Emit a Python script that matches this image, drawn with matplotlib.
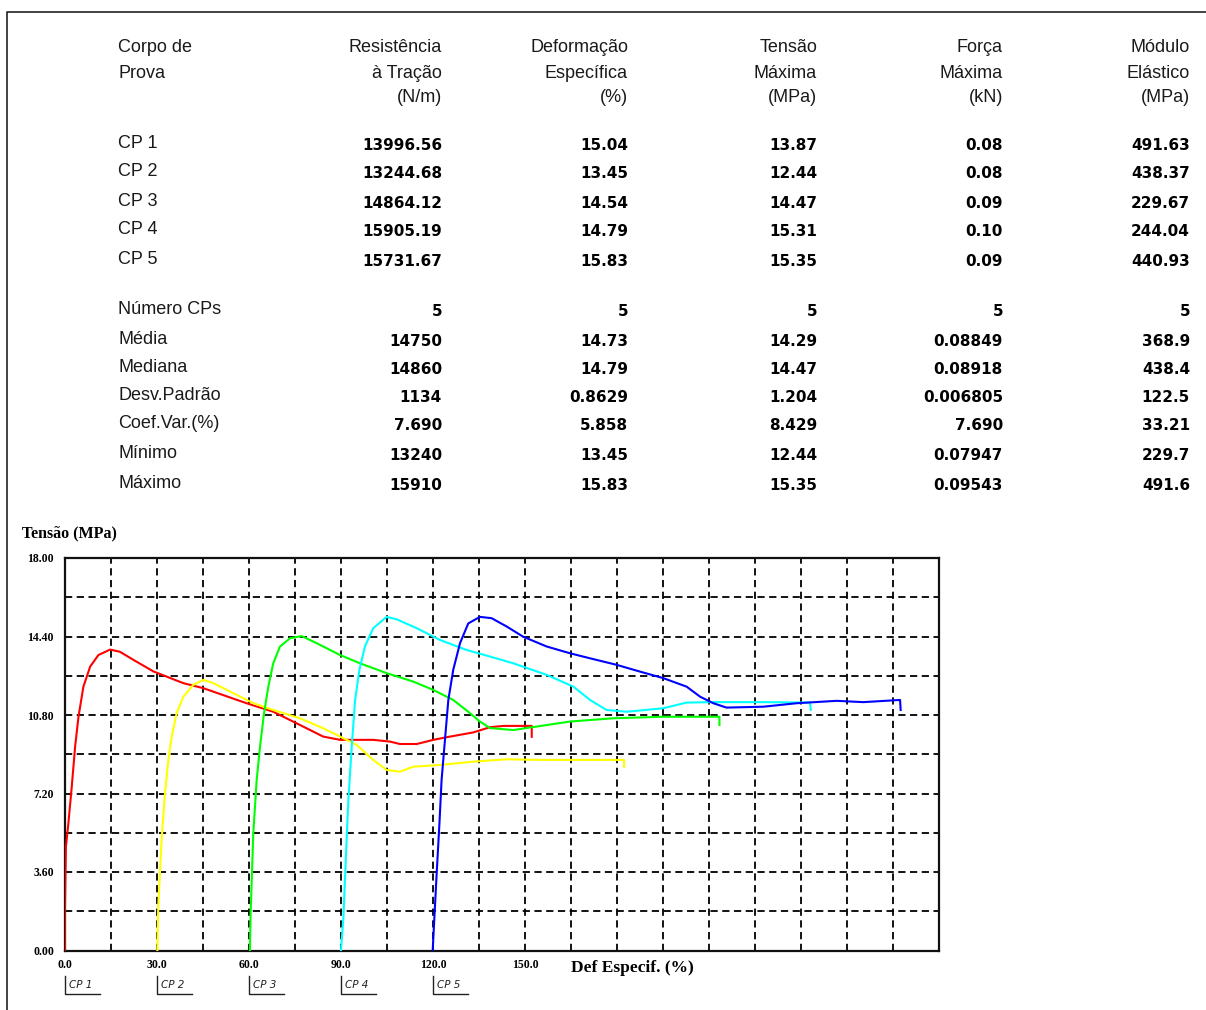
import numpy as np
import matplotlib.pyplot as plt

# --- tabela de resultados ---
headers = [
    ["Resistência", "à Tração", "(N/m)"],
    ["Deformação", "Específica", "(%)"],
    ["Tensão", "Máxima", "(MPa)"],
    ["Força", "Máxima", "(kN)"],
    ["Módulo", "Elástico", "(MPa)"],
]
cp_labels = ["CP 1", "CP 2", "CP 3", "CP 4", "CP 5"]
resistencia = [13996.56, 13244.68, 14864.12, 15905.19, 15731.67]
deformacao = [15.04, 13.45, 14.54, 14.79, 15.83]
tensao_max = [13.87, 12.44, 14.47, 15.31, 15.35]
forca_max = [0.08, 0.08, 0.09, 0.10, 0.09]
modulo = [491.63, 438.37, 229.67, 244.04, 440.93]

stat_labels = ["Número CPs", "Média", "Mediana", "Desv.Padrão",
               "Coef.Var.(%)", "Mínimo", "Máximo"]
stat_resistencia = ["5", "14750", "14860", "1134", "7.690", "13240", "15910"]
stat_deformacao = ["5", "14.73", "14.79", "0.8629", "5.858", "13.45", "15.83"]
stat_tensao = ["5", "14.29", "14.47", "1.204", "8.429", "12.44", "15.35"]
stat_forca = ["5", "0.08849", "0.08918", "0.006805", "7.690", "0.07947", "0.09543"]
stat_modulo = ["5", "368.9", "438.4", "122.5", "33.21", "229.7", "491.6"]

# --- curvas tensão x deformação (deslocadas de 30 em 30) ---
cp_offsets = [0, 30, 60, 90, 120]
cp_colors = ["#ff0000", "#ffff00", "#00ff00", "#00ffff", "#0000ff"]

cp1_x = [0, 0, 0.3, 1.1, 2.2, 3.3, 4.4, 6.0, 8.2, 10.9, 14.7, 17.9, 22.3, 28.8, 38.6,
         45.1, 59.2, 67.9, 75.5, 84.2, 89.7, 100.5, 106.0, 109.2, 114.7, 120.1,
         124.4, 133.1, 138.6, 143.0, 149.4, 152.2, 152.2]
cp1_y = [0, 2.0, 4.76, 5.83, 7.51, 9.35, 10.72, 12.1, 13.02, 13.55, 13.8, 13.7, 13.33,
         12.8, 12.26, 12.03, 11.34, 10.95, 10.42, 9.81, 9.66, 9.66, 9.58, 9.47,
         9.47, 9.66, 9.78, 10.0, 10.24, 10.3, 10.3, 10.3, 9.8]

cp2_x = [30.1, 30.4, 31.5, 32.6, 33.7, 34.8, 36.4, 38.6, 41.8, 45.1, 48.4, 54.9,
         61.4, 67.9, 76.6, 84.2, 89.7, 95.1, 100.5, 104.9, 109.2, 113.6, 122.3,
         133.1, 144.0, 154.9, 165.0, 179.9, 182.3, 182.3]
cp2_y = [0, 2.0, 5.07, 7.21, 8.74, 9.81, 10.88, 11.64, 12.18, 12.41, 12.26, 11.8,
         11.34, 11.03, 10.65, 10.19, 9.81, 9.43, 8.74, 8.28, 8.2, 8.43, 8.51,
         8.66, 8.77, 8.74, 8.74, 8.74, 8.74, 8.42]

cp3_x = [60.3, 60.5, 61.4, 62.5, 63.6, 64.9, 66.3, 67.9, 70.1, 73.4, 77.2, 82.1,
         89.7, 96.2, 104.9, 113.6, 120.1, 126.6, 132.1, 135.3, 138.6, 146.2,
         157.1, 164.7, 178.8, 195.1, 212.5, 213.4, 213.4]
cp3_y = [0, 1.55, 5.38, 7.82, 9.35, 10.88, 12.1, 13.17, 13.94, 14.32, 14.42, 14.09,
         13.55, 13.17, 12.72, 12.33, 11.95, 11.49, 10.88, 10.5, 10.2, 10.11,
         10.34, 10.5, 10.65, 10.72, 10.72, 10.72, 10.34]

cp4_x = [90.0, 90.8, 91.6, 92.4, 93.5, 94.6, 96.0, 97.8, 100.5, 104.9, 108.1, 114.7,
         122.3, 131.0, 138.6, 146.2, 157.1, 165.8, 171.2, 176.6, 183.2, 195.1,
         202.7, 211.4, 227.7, 242.9, 243.2]
cp4_y = [0, 1.55, 4.3, 6.9, 9.35, 11.49, 12.87, 13.94, 14.78, 15.3, 15.19, 14.78,
         14.24, 13.78, 13.48, 13.17, 12.64, 12.1, 11.49, 11.03, 10.95, 11.11,
         11.37, 11.39, 11.39, 11.37, 11.03]

cp5_x = [119.9, 120.3, 121.2, 122.1, 122.8, 123.9, 125.0, 126.6, 128.8, 131.5, 135.3,
         139.1, 144.0, 149.4, 157.1, 164.7, 171.2, 179.9, 187.5, 195.1, 202.7,
         207.1, 211.4, 215.7, 227.7, 238.6, 251.6, 260.3, 272.3, 272.5]
cp5_y = [0, 1.1, 3.54, 5.83, 7.82, 9.66, 11.49, 12.87, 14.09, 15.0, 15.3, 15.24,
         14.86, 14.39, 13.94, 13.63, 13.4, 13.1, 12.79, 12.49, 12.1, 11.64,
         11.34, 11.14, 11.18, 11.34, 11.45, 11.39, 11.49, 11.03]

curves = [(cp1_x, cp1_y), (cp2_x, cp2_y), (cp3_x, cp3_y), (cp4_x, cp4_y), (cp5_x, cp5_y)]

W, H = 1206, 1010
fig = plt.figure(figsize=(W / 100, H / 100), dpi=100)


def fx(px):
    return px / W


def fy(py):
    return 1 - py / H


# moldura da página
fig.add_artist(plt.Line2D([fx(7), fx(7), fx(W)], [fy(H), fy(12), fy(12)],
                          color="#222222", lw=1.2))

head_font = dict(family="Liberation Sans", fontsize=13, color="#1a1a1a")
num_font = dict(family="DejaVu Sans", fontsize=11, fontweight="bold", color="#000000")

# cabeçalho
fig.text(fx(118), fy(48), "Corpo de", ha="left", va="center", **head_font)
fig.text(fx(118), fy(73), "Prova", ha="left", va="center", **head_font)
col_right = [442, 628, 817, 1003, 1190]
for xr, lines in zip(col_right, headers):
    for k, line in enumerate(lines):
        fig.text(fx(xr), fy(48 + 25 * k), line, ha="right", va="center", **head_font)

# valores por corpo de prova
cols = [
    [f"{v:.2f}" for v in resistencia],
    [f"{v:.2f}" for v in deformacao],
    [f"{v:.2f}" for v in tensao_max],
    [f"{v:.2f}" for v in forca_max],
    [f"{v:.2f}" for v in modulo],
]
row_y = [145, 174, 203, 232, 261]
for i, lab in enumerate(cp_labels):
    fig.text(fx(118), fy(row_y[i] - 2), lab, ha="left", va="center", **head_font)
    for xr, col in zip(col_right, cols):
        fig.text(fx(xr), fy(row_y[i]), col[i], ha="right", va="center", **num_font)

# estatísticas
stat_cols = [stat_resistencia, stat_deformacao, stat_tensao, stat_forca, stat_modulo]
stat_y = [312, 341, 369, 398, 426, 456, 485]
for i, lab in enumerate(stat_labels):
    fig.text(fx(118), fy(stat_y[i] - 2), lab, ha="left", va="center", **head_font)
    for xr, col in zip(col_right, stat_cols):
        fig.text(fx(xr), fy(stat_y[i]), col[i], ha="right", va="center", **num_font)

# --- gráfico ---
ax = fig.add_axes([fx(65), fy(950.5), (939 - 65) / W, (950.5 - 558) / H])
for (xs, ys), c in zip(curves, cp_colors):
    ax.plot(xs, ys, color=c, lw=1.5, zorder=3)

ax.set_xlim(0, 285)
ax.set_ylim(0, 18)
xt = np.arange(0, 285, 15)
ax.set_xticks(xt)
ax.set_xticklabels([f"{v:.1f}" if (v % 30 == 0 and v <= 150) else "" for v in xt])
yt = np.arange(0, 18.01, 1.8)
ax.set_yticks(yt)
ax.set_yticklabels([f"{v:.2f}" if k % 2 == 0 else "" for k, v in enumerate(yt)])
ax.tick_params(length=0, labelsize=8.5)
ax.tick_params(axis="y", pad=8)
ax.tick_params(axis="x", pad=6)
for lab in ax.get_xticklabels() + ax.get_yticklabels():
    lab.set_fontweight("bold")
    lab.set_family("Liberation Serif")
ax.grid(True, color="black", lw=1.3, linestyle=(0, (4, 2.5)))
for sp in ax.spines.values():
    sp.set_linewidth(1.6)
    sp.set_color("#111111")

fig.text(fx(22), fy(533), "Tensão (MPa)", ha="left", va="center",
         family="Liberation Serif", fontweight="bold", fontsize=11.5)
fig.text(fx(571), fy(968), "Def Especif. (%)", ha="left", va="center",
         family="Liberation Serif", fontweight="bold", fontsize=12.5)

# legenda dos corpos de prova sob o eixo x
for off, lab in zip(cp_offsets, cp_labels):
    px = 65 + off * (939 - 65) / 285
    fig.add_artist(plt.Line2D([fx(px), fx(px), fx(px + 35)],
                              [fy(976), fy(994), fy(994)], color="#222222", lw=1.0))
    fig.text(fx(px + 4), fy(985), lab, ha="left", va="center", fontsize=7.5,
             style="italic", family="DejaVu Sans", color="#222222")

fig.savefig("out.png", dpi=100)
